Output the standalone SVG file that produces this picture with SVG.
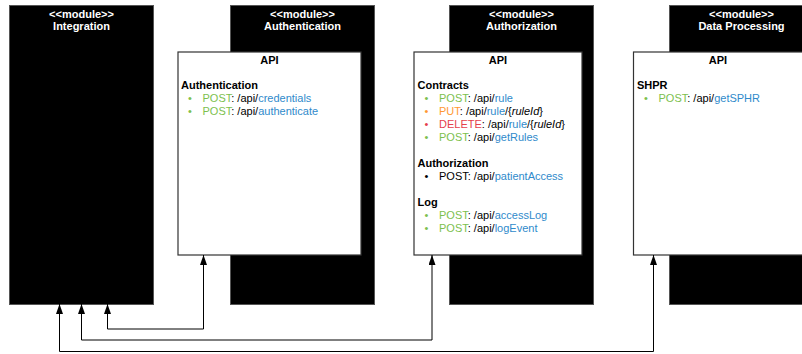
<svg xmlns="http://www.w3.org/2000/svg" width="802" height="354" viewBox="0 0 802 354">
<defs>
<style>
text{font-family:"Liberation Sans",Arial,sans-serif;font-size:11px;fill:#000}
.mod{fill:#000;stroke:#555;stroke-width:1}
.api{fill:#fff;stroke:#333;stroke-width:1.2}
.mt{fill:#fff;font-weight:bold;text-anchor:middle}
.t{font-weight:bold;text-anchor:middle}
.h{font-weight:bold}
.g{fill:#7DBF4E}
.o{fill:#FF9933}
.r{fill:#E5404C}
.b{fill:#2F8ACB}
.i{font-style:italic}
.conn{fill:none;stroke:#000;stroke-width:1}
</style>
<marker id="arr" viewBox="0 0 10 7" refX="10" refY="3.5" markerWidth="10" markerHeight="7" markerUnits="userSpaceOnUse" orient="auto-start-reverse">
<path d="M0,0 L10,3.5 L0,7 z" fill="#000"/>
</marker>
</defs>

<g id="integration">
<rect class="mod" x="9.5" y="5.5" width="144" height="299"/>
<text class="mt" x="81.5" y="18">&lt;&lt;module&gt;&gt;</text>
<text class="mt" x="81.5" y="30">Integration</text>
</g>

<g id="authentication">
<rect class="mod" x="230.5" y="5.5" width="144" height="299"/>
<text class="mt" x="302.5" y="18">&lt;&lt;module&gt;&gt;</text>
<text class="mt" x="302.5" y="30">Authentication</text>
<rect class="api" x="178" y="52" width="183" height="203"/>
<text class="t" x="269.5" y="64">API</text>
<text class="h" x="181" y="89">Authentication</text>
<text x="188" y="102" class="g">•</text>
<text x="202.5" y="102"><tspan class="g">POST</tspan>: /api/<tspan class="b">credentials</tspan></text>
<text x="188" y="115" class="g">•</text>
<text x="202.5" y="115"><tspan class="g">POST</tspan>: /api/<tspan class="b">authenticate</tspan></text>
</g>

<g id="authorization">
<rect class="mod" x="449.5" y="5.5" width="144" height="299"/>
<text class="mt" x="521.5" y="18">&lt;&lt;module&gt;&gt;</text>
<text class="mt" x="521.5" y="30">Authorization</text>
<rect class="api" x="414" y="52" width="168" height="203"/>
<text class="t" x="498" y="64">API</text>
<text class="h" x="417.5" y="89">Contracts</text>
<text x="424.5" y="102" class="g">•</text>
<text x="439" y="102"><tspan class="g">POST</tspan>: /api/<tspan class="b">rule</tspan></text>
<text x="424.5" y="115" class="o">•</text>
<text x="439" y="115"><tspan class="o">PUT</tspan>: /api/<tspan class="b">rule</tspan>/{<tspan class="i">ruleId</tspan>}</text>
<text x="424.5" y="128" class="r">•</text>
<text x="439" y="128"><tspan class="r">DELETE</tspan>: /api/<tspan class="b">rule</tspan>/{<tspan class="i">ruleId</tspan>}</text>
<text x="424.5" y="141" class="g">•</text>
<text x="439" y="141"><tspan class="g">POST</tspan>: /api/<tspan class="b">getRules</tspan></text>
<text class="h" x="417.5" y="167">Authorization</text>
<text x="424.5" y="180">•</text>
<text x="439" y="180">POST: /api/<tspan class="b">patientAccess</tspan></text>
<text class="h" x="417.5" y="206">Log</text>
<text x="424.5" y="219" class="g">•</text>
<text x="439" y="219"><tspan class="g">POST</tspan>: /api/<tspan class="b">accessLog</tspan></text>
<text x="424.5" y="232" class="g">•</text>
<text x="439" y="232"><tspan class="g">POST</tspan>: /api/<tspan class="b">logEvent</tspan></text>
</g>

<g id="data-processing">
<rect class="mod" x="669.5" y="5.5" width="144" height="299"/>
<text class="mt" x="741.5" y="18">&lt;&lt;module&gt;&gt;</text>
<text class="mt" x="741.5" y="30">Data Processing</text>
<rect class="api" x="633.5" y="52" width="183" height="203"/>
<text class="t" x="718" y="64">API</text>
<text class="h" x="637" y="89">SHPR</text>
<text x="644" y="102" class="g">•</text>
<text x="658.5" y="102"><tspan class="g">POST</tspan>: /api/<tspan class="b">getSPHR</tspan></text>
</g>

<g id="connectors">
<path class="conn" d="M203.5,255 V329 H107.5 V304" marker-start="url(#arr)" marker-end="url(#arr)"/>
<path class="conn" d="M432,255 V340 H81.5 V304" marker-start="url(#arr)" marker-end="url(#arr)"/>
<path class="conn" d="M653.5,255 V351.5 H59.5 V304" marker-start="url(#arr)" marker-end="url(#arr)"/>
</g>
</svg>
